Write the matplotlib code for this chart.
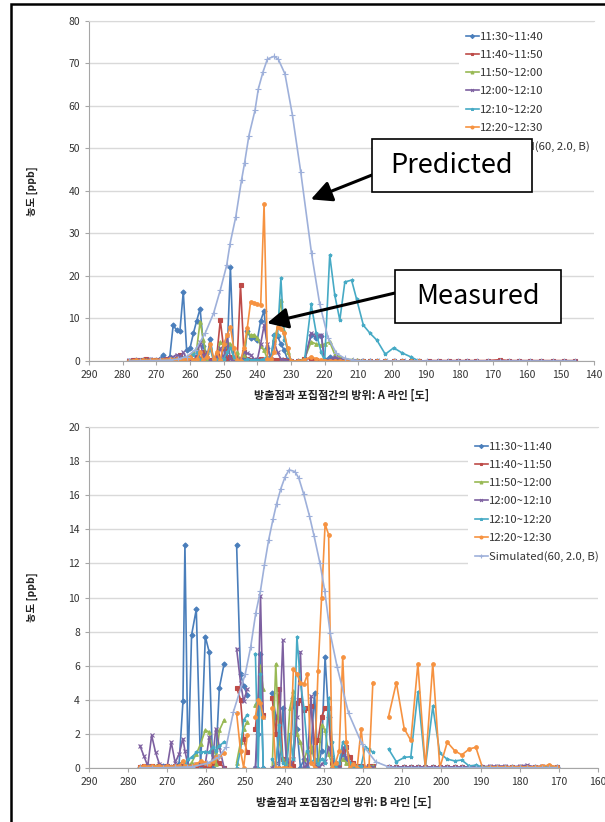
import numpy as np
import matplotlib
matplotlib.use('Agg')
import matplotlib.pyplot as plt
from matplotlib.patches import Rectangle

plt.rcParams['font.family'] = ['Noto Sans CJK KR', 'DejaVu Sans']

nan = np.nan

LABELS = ['11:30~11:40', '11:40~11:50', '11:50~12:00', '12:00~12:10',
          '12:10~12:20', '12:20~12:30', 'Simulated(60, 2.0, B)']
COLORS = ['#4A7EBB', '#BE4B48', '#98B954', '#7D60A0', '#46AAC5', '#F69240', '#9EB0DA']
MARKERS = ['D', 's', '^', 'x', '*', 'o', '+']

# ---------------- A line (top panel) ----------------
TOP_X = [278, 277, 276, 275, 274, 273, 272, 271, 270, 269,
         268, 267, 266, 265, 264, 263, 262, 261, 260, 259,
         258, 257, 256, 255, 254, 253, 252, 251, 250, 249,
         248, 247, 246, 245, 244, 243, 242, 241, 240, 239,
         238, 237, 236, 235, 234, 233, 232, 231, 230, 228,
         226, 224, 222.5, 221, 220, 218.5, 217, 215.5, 214, 212,
         210.5, 208.5, 206.5, 204.5, 202, 199.5, 197, 194.5, 192,
         189, 186, 183, 180.5, 177.8, 175, 171.6, 168, 165.3, 162.2,
         159, 155.7, 152.3, 149, 145.6]

top_blue = [0.1, 0.1, 0.2, 0.1, 0.3, 0.2, 0.2, 0.1, 0.3, 0.5,
            1.4, 0.3, 1.0, 8.4, 7.3, 7.0, 16.3, 2.5, 3.0, 6.5,
            9.5, 12.3, 3.5, 0.5, 5.2, 0.2, 1.0, 0.1, 3.0, 1.0,
            22.0, 0.2, 0.5, 0.3, 0.2, 7.0, 5.5, 5.7, 5.0, 9.5,
            11.8, 3.0, 0.5, 6.0, 5.8, 4.0, 2.5, 0.3, 0.0, 0.0,
            0.3, 6.0, 5.5, 5.8, 0.2, 1.0, 0.5, 0.5, 0.3, 0.1,
            0.1, 0.0, 0.0, 0.0, 0.0, 0.0, 0.0, 0.0, 0.0]
top_red = [0.1, 0.2, 0.2, 0.3, 0.2, 0.4, 0.3, 0.2, 0.2, 0.3,
           0.3, 0.4, 0.5, 0.3, 0.4, 1.5, 0.3, 0.5, 0.5, 0.2,
           1.0, 0.5, 2.0, 0.0, 0.3, 0.5, 1.5, 9.6, 3.0, 0.5,
           1.0, 0.5, 0.0, 17.8, 2.0, 0.5, 0.3, 0.3, 0.2, 0.5,
           0.3, 0.3, 0.2, 0.3, 0.2, 0.3, 0.2, 0.1, 0.0, 0.0,
           0.5, 0.5, 0.3, 0.1, 0.0, 0.1, 0.0, 0.0, 0.0, 0.0,
           0.0, 0.0, 0.0, 0.0, 0.0, 0.0, 0.0, 0.0, 0.0,
           0.1, 0.1, 0.1, 0.1, 0.1, 0.1, 0.1, 0.3, 0.1, 0.1,
           0.1, 0.1, 0.1, 0.1, 0.1]
top_green = [0.1, 0.1, 0.1, 0.2, 0.1, 0.2, 0.1, 0.2, 0.2, 0.2,
             0.3, 0.2, 0.3, 0.3, 0.3, 0.5, 0.5, 0.5, 1.0, 2.0,
             3.0, 9.2, 5.0, 0.5, 3.0, 0.5, 1.0, 4.5, 3.5, 4.5,
             4.0, 0.5, 2.0, 0.0, 1.5, 7.0, 6.0, 6.2, 5.5, 3.5,
             2.5, 0.5, 0.0, 5.0, 8.0, 14.4, 7.0, 2.0, 0.0, 0.0,
             0.5, 4.5, 4.0, 3.7, 4.0, 4.5, 1.5, 1.0, 0.5, 0.3,
             0.2, 0.1, 0.0, 0.0, 0.0, 0.0, 0.0, 0.0, 0.0]
top_purple = [0.2, 0.1, 0.3, 0.2, 0.3, 0.2, 0.4, 0.3, 0.2, 0.3,
              0.4, 0.5, 0.8, 1.0, 1.5, 1.0, 2.0, 0.5, 0.5, 0.3,
              1.0, 4.5, 1.0, 2.0, 0.0, 0.5, 1.0, 3.0, 0.5, 6.0,
              0.5, 0.0, 0.0, 0.5, 2.0, 1.8, 1.5, 0.5, 0.3, 4.0,
              8.4, 4.0, 0.5, 4.5, 2.0, 0.5, 0.3, 0.0, 0.0, 0.0,
              0.0, 6.5, 6.0, 6.2, 0.0, 0.3, 1.0, 0.5, 0.2, 0.1,
              0.1, 0.0, 0.0, 0.0, 0.0, 0.0, 0.0, 0.0, 0.0,
              0.0, 0.0, 0.0, 0.0, 0.0, 0.0, 0.0, 0.0, 0.0, 0.0,
              0.0, 0.0, 0.0, 0.0, 0.0]
top_teal = [0.1, 0.1, 0.1, 0.1, 0.2, 0.1, 0.1, 0.2, 0.1, 0.2,
            0.2, 0.3, 0.3, 0.5, 0.5, 0.5, 0.8, 1.0, 1.0, 1.5,
            2.0, 0.5, 0.0, 1.0, 3.0, 0.0, 0.2, 0.5, 0.5, 2.0,
            3.0, 1.0, 0.0, 0.0, 0.0, 0.5, 0.3, 0.2, 0.2, 0.3,
            0.5, 1.0, 0.0, 6.2, 6.0, 19.4, 5.0, 3.0, 0.0, 0.0,
            0.0, 13.3, 6.5, 2.0, 0.0, 24.9, 15.5, 9.6, 18.6, 19.0,
            14.5, 8.4, 6.5, 4.9, 1.6, 3.1, 1.9, 1.0, 0.0]
top_orange = [0.1, 0.1, 0.2, 0.1, 0.2, 0.1, 0.2, 0.2, 0.3, 0.2,
              0.3, 0.3, 0.5, 0.3, 0.4, 0.3, 0.5, 0.5, 1.0, 0.2,
              0.5, 2.0, 0.2, 1.0, 4.0, 0.5, 2.0, 0.2, 4.0, 6.0,
              8.0, 3.0, 0.2, 0.0, 3.0, 7.7, 13.9, 13.7, 13.4, 13.1,
              36.8, 0.5, 0.5, 2.0, 8.0, 7.5, 6.5, 3.0, 0.0, 0.0,
              0.3, 1.0, 0.5, 0.3, 0.1, 0.1, 0.0, 0.0, 0.0, 0.0,
              0.0, 0.0, 0.0, 0.0, 0.0, 0.0, 0.0, 0.0, 0.0]

TOP_SIM_X = [278, 275, 272, 269, 266, 263.5, 261, 258.4, 255.5, 253,
             251, 249.1, 248.1, 246.4, 244.7, 243.8, 242.5, 240.7, 239.7, 238.3,
             237, 235.1, 233.8, 231.8, 229.6, 227.1, 223.9, 221.5, 219, 216.5,
             214, 211.5, 209, 206.5, 204, 201.5, 199, 196, 192.7, 189.6,
             186.4, 183.4, 180.5, 177.8, 174.9, 171.6, 168.0, 165.3, 162.2, 159.0,
             155.7, 152.3, 148.9, 145.6]
top_sim = [0.0, 0.03, 0.06, 0.12, 0.2, 0.45, 1.0, 2.6, 6.5, 11.2,
           16.7, 22.5, 27.6, 33.9, 42.5, 46.5, 53.0, 58.9, 64.0, 68.0,
           71.0, 71.6, 71.0, 67.5, 57.9, 44.4, 25.3, 13.5, 5.5, 1.8,
           0.6, 0.2, 0.05, 0.0, 0.0, 0.0, 0.0, 0.0, 0.0, 0.0,
           0.0, 0.0, 0.0, 0.0, 0.0, 0.0, 0.0, 0.0, 0.0, 0.0,
           0.0, 0.0, 0.0, 0.0]

# ---------------- B line (bottom panel) ----------------
BOT_X = [277, 276, 275, 274, 273, 272, 271, 270, 269, 268,
         267, 266, 265.5, 264.7, 263.8, 262.6, 261.5, 260.3, 259.3, 258.4,
         257.6, 256.7, 255.5, 254,
         252.3, 251.3, 250.5, 249.6, 248.5,
         247.5, 246.8, 246.2, 245.5, 244.3,
         243.2, 242.3, 241.4, 240.5, 239.6, 238.7, 237.8, 236.9, 236.0, 235.1,
         234.2, 233.3, 232.4, 231.5, 230.6, 229.7, 228.8, 227.9, 227.0, 226.1,
         225.2, 224.3, 223.4, 222.5, 221.5, 220.5, 219.5, 218.5, 217.5, 215.5,
         213.5, 211.5, 209.5, 207.8, 206.0, 204.1, 202.2, 200.4, 198.5, 196.6,
         194.8, 192.9, 191.2, 189.5, 187.6, 185.7, 183.8, 181.9, 180.0, 178.1,
         176.2, 174.3, 172.4, 170.5]

bot_blue = [0.05, 0.05, 0.1, 0.05, 0.05, 0.05, 0.1, 0.05, 0.05, 0.1,
            0.2, 3.9, 13.1, 0.0, 7.8, 9.3, 0.0, 7.7, 6.8, 0.0,
            0.5, 4.7, 6.1, nan,
            13.1, 5.5, 4.8, 4.3, nan,
            0.0, 2.0, 6.7, 0.0, nan,
            4.4, 3.0, 0.0, 3.5, 0.5, 0.0, 4.1, 2.3, 0.0, 0.5,
            0.0, 1.0, 4.4, 0.0, 1.0, 6.5, 3.0, 0.0, 0.3, 0.0,
            0.8, 0.5, 0.3, 0.2, 0.0, 0.0, 0.0, 0.0, 0.0, nan,
            0.05, 0.05, 0.05, 0.05, 0.05, 0.05, 0.05, 0.05, 0.05, 0.05,
            0.05, 0.05, 0.05, 0.05, 0.05, 0.05, 0.05, 0.05, 0.05, 0.05,
            0.05, 0.05, 0.05, 0.05]
bot_red = [0.05, 0.1, 0.05, 0.1, 0.05, 0.1, 0.05, 0.1, 0.05, 0.1,
           0.05, 0.1, 0.05, 0.05, 0.1, 0.1, 0.2, 0.0, 0.1, 0.3,
           0.5, 0.3, 0.0, nan,
           4.7, 4.0, 1.7, 0.9, nan,
           2.3, 4.0, 5.3, 3.1, nan,
           4.1, 2.0, 4.6, 0.5, 0.0, 0.2, 0.1, 3.8, 4.0, 3.4,
           3.5, 3.6, 1.5, 1.6, 3.0, 3.5, 3.5, 0.3, 0.0, 0.2,
           1.0, 1.2, 0.6, 0.3, 0.1, 0.1, 0.0, 0.1, 0.1, nan,
           0.05, 0.05, 0.05, 0.05, 0.05, 0.05, 0.05, 0.05, 0.05, 0.05,
           0.05, 0.05, 0.05, 0.05, 0.05, 0.05, 0.05, 0.05, 0.05, 0.05,
           0.05, 0.05, 0.05, 0.05]
bot_green = [0.05, 0.05, 0.1, 0.05, 0.1, 0.05, 0.05, 0.1, 0.05, 0.05,
             0.1, 0.05, 0.05, 0.1, 0.3, 0.8, 1.4, 2.2, 2.1, 1.0,
             0.2, 2.2, 2.8, nan,
             0.3, 1.5, 2.3, 2.7, nan,
             3.7, 4.0, 6.0, 4.6, nan,
             0.0, 6.1, 1.5, 0.5, 0.3, 3.5, 4.5, 2.0, 1.5, 0.5,
             1.0, 1.3, 0.4, 0.2, 2.5, 2.2, 0.8, 0.2, 0.1, 0.3,
             0.5, 0.3, 0.1, 0.0, 0.0, 0.0, 0.0, 0.1, 0.1, nan,
             0.05, 0.05, 0.05, 0.05, 0.05, 0.05, 0.05, 0.05, 0.05, 0.05,
             0.05, 0.05, 0.05, 0.05, 0.05, 0.05, 0.05, 0.05, 0.05, 0.05,
             0.05, 0.05, 0.05, 0.05]
bot_purple = [1.3, 0.7, 0.1, 1.9, 0.9, 0.2, 0.1, 0.1, 1.5, 0.3,
              0.8, 1.7, 1.0, 0.1, 0.05, 0.2, 0.3, 0.2, 1.8, 0.6,
              2.3, 1.2, 0.0, nan,
              7.0, 5.0, 3.9, 4.6, nan,
              0.0, 4.0, 10.1, 3.0, nan,
              0.0, 0.3, 2.0, 7.5, 0.5, 0.2, 0.5, 3.0, 6.8, 0.0,
              0.2, 4.2, 0.2, 0.0, 0.2, 0.4, 1.2, 0.6, 0.1, 0.1,
              1.2, 0.6, 0.2, 0.1, 0.0, 0.0, 0.05, 0.05, 0.05, nan,
              0.05, 0.05, 0.05, 0.05, 0.05, 0.05, 0.05, 0.05, 0.05, 0.05,
              0.05, 0.05, 0.05, 0.05, 0.1, 0.1, 0.1, 0.05, 0.1, 0.15,
              0.05, 0.1, 0.1, 0.05]
bot_teal = [0.05, 0.05, 0.05, 0.05, 0.05, 0.05, 0.05, 0.05, 0.05, 0.1,
            0.1, 0.4, 0.2, 0.5, 0.6, 0.9, 0.9, 0.95, 0.9, 1.2,
            1.0, 1.3, 1.5, nan,
            0.0, 1.0, 2.8, 3.1, nan,
            6.7, 0.0, 5.5, 0.0, nan,
            0.5, 0.0, 2.5, 0.3, 0.0, 2.0, 0.5, 7.7, 5.0, 3.5,
            1.0, 0.3, 0.5, 0.2, 0.5, 0.3, 4.1, 1.5, 0.0, 0.3,
            1.5, 1.2, 0.3, 0.0, 0.1, 0.1, 1.2, 1.1, 0.9, nan,
            1.1, 0.35, 0.6, 0.65, 4.45, 0.0, 3.6, 0.85, 0.5, 0.4,
            0.45, 0.1, 0.15, 0.05, 0.05, 0.05, 0.05, 0.05, 0.05, 0.05,
            0.05, 0.05, 0.05, 0.05]
bot_orange = [0.05, 0.1, 0.05, 0.1, 0.05, 0.1, 0.05, 0.1, 0.05, 0.1,
              0.1, 0.4, 0.1, 0.05, 0.1, 0.2, 0.4, 0.3, 0.2, 0.4,
              0.6, 0.7, 0.85, nan,
              3.2, 1.0, 0.0, 1.9, nan,
              3.0, 4.0, 3.8, 3.0, nan,
              3.5, 0.0, 0.0, 0.0, 0.0, 0.0, 5.8, 5.5, 5.0, 4.9,
              5.5, 0.3, 0.0, 5.7, 10.0, 14.3, 13.7, 0.0, 0.3, 1.0,
              6.5, 1.5, 0.0, 0.2, 0.0, 2.3, 0.0, 0.0, 5.0, nan,
              3.0, 5.0, 2.3, 1.6, 6.1, 0.0, 6.1, 0.0, 1.5, 1.0,
              0.75, 1.1, 1.2, 0.0, 0.05, 0.05, 0.05, 0.05, 0.05, 0.05,
              0.05, 0.1, 0.15, 0.05]

BOT_SIM_X = [277, 274, 271, 268, 265, 263.8, 259.9, 257, 255, 253.1,
             250.1, 248.7, 247.4, 246.2, 245.2, 244.1, 243, 242.1, 241, 239.9,
             238.9, 237.4, 236.4, 235.2, 233.7, 232.5, 231, 229.8, 228.4, 226.6,
             223.7, 220.3, 216.8, 213.5, 211.5, 209.5, 207.8, 206.0, 204.1, 202.2,
             200.4, 198.5, 196.6, 194.8, 192.9, 191.2, 189.5, 187.6, 185.7, 183.8,
             181.9, 180.0, 178.1, 176.2, 174.3, 172.4, 170.5]
bot_sim = [0.0, 0.0, 0.0, 0.02, 0.04, 0.05, 0.25, 0.6, 1.2, 3.3,
           5.5, 7.1, 9.1, 10.4, 11.9, 13.4, 14.6, 15.5, 16.4, 17.1,
           17.5, 17.4, 17.0, 16.1, 14.8, 13.6, 12.0, 10.4, 7.9, 5.9,
           3.2, 1.4, 0.35, 0.05, 0.0, 0.0, 0.0, 0.0, 0.0, 0.0,
           0.0, 0.0, 0.0, 0.0, 0.0, 0.0, 0.0, 0.0, 0.0, 0.0,
           0.0, 0.0, 0.0, 0.0, 0.0, 0.0, 0.0]

W, H = 605, 822
fig = plt.figure(figsize=(W / 100, H / 100), dpi=100)


def px_rect(x0, y0, x1, y1):
    return [x0 / W, 1 - y1 / H, (x1 - x0) / W, (y1 - y0) / H]


def draw_panel(ax, x, series, sim_x, sim_y, xlim, ymax, ystep, xlabel, leg_xy):
    for vals, lab, col, mk in zip(series, LABELS, COLORS, MARKERS):
        ax.plot(x[:len(vals)], vals, color=col, lw=1.2, marker=mk, ms=2.6,
                mew=0.8, label=lab)
    ax.plot(sim_x, sim_y, color=COLORS[6], lw=1.2, marker='+', ms=4,
            mew=0.8, label=LABELS[6])
    ax.set_xlim(*xlim)
    ax.set_ylim(0, ymax)
    ax.set_xticks(np.arange(xlim[0], xlim[1] - 1, -10))
    ax.set_yticks(np.arange(0, ymax + 0.1, ystep))
    ax.yaxis.grid(True, color='#D9D9D9', lw=1.0)
    ax.set_axisbelow(True)
    for s in ['left', 'bottom']:
        ax.spines[s].set_color('#A6A6A6')
    ax.spines['top'].set_color('#D9D9D9')
    ax.spines['right'].set_visible(False)
    ax.tick_params(labelsize=7.5, colors='#A6A6A6', labelcolor='#333333',
                   length=3, width=0.8)
    ax.set_xlabel(xlabel, fontsize=8, fontweight='bold', color='#222222')
    ax.set_ylabel('농도 [ppb]', fontsize=7.5, fontweight='bold', color='#222222')
    ax.yaxis.set_label_coords(-0.101, 0.5)
    ax.xaxis.set_label_coords(0.5, -0.082)
    leg = ax.legend(loc='upper left', bbox_to_anchor=leg_xy,
                    bbox_transform=fig.transFigure, fontsize=8.2,
                    frameon=True, fancybox=False, edgecolor='none',
                    facecolor='white', framealpha=1, handlelength=1.15,
                    handletextpad=0.1, labelspacing=0.72, borderpad=0.6,
                    borderaxespad=0, markerscale=0.8)
    for t in leg.get_texts():
        t.set_color('#333333')


ax1 = fig.add_axes(px_rect(89, 20.7, 594, 361))
draw_panel(ax1, TOP_X, [top_blue, top_red, top_green, top_purple, top_teal, top_orange],
           TOP_SIM_X, top_sim, (290, 140), 80, 10,
           '방출점과 포집점간의 방위: A 라인 [도]', (459 / W, 1 - 25 / H))

ax2 = fig.add_axes(px_rect(89, 427.3, 598, 767.7))
draw_panel(ax2, BOT_X, [bot_blue, bot_red, bot_green, bot_purple, bot_teal, bot_orange],
           BOT_SIM_X, bot_sim, (290, 160), 20, 2,
           '방출점과 포집점간의 방위: B 라인 [도]', (468 / W, 1 - 435 / H))

# callout boxes with arrows
arrow_kw = dict(arrowstyle='-|>,head_length=0.9,head_width=0.45', lw=2.2,
                color='black', shrinkA=0, shrinkB=0, mutation_scale=14)
callouts = [('Predicted', (372, 139, 532, 192), (224.1, 38.0), (372, 175)),
            ('Measured', (395, 270, 561, 323), (237.1, 8.9), (395, 293))]
for text, (x0, y0, x1, y1), tip, start in callouts:
    ax1.annotate('', xy=tip, xycoords='data',
                 xytext=(start[0] / W, 1 - start[1] / H), textcoords='figure fraction',
                 arrowprops=arrow_kw, annotation_clip=False)
    fig.add_artist(Rectangle((x0 / W, 1 - y1 / H), (x1 - x0) / W, (y1 - y0) / H,
                             transform=fig.transFigure, fc='white', ec='black',
                             lw=1.2, zorder=5))
    fig.text((x0 + x1) / 2 / W, 1 - (y0 + y1) / 2 / H, text, fontsize=19.5,
             ha='center', va='center', color='black', zorder=6)

# outer frame
fig.add_artist(Rectangle((10.5 / W, -0.05), 1.2, 1.05 - 4.5 / H,
                         transform=fig.transFigure, fc='none', ec='black',
                         lw=1.8, zorder=7))

fig.savefig('out.png', dpi=100)
